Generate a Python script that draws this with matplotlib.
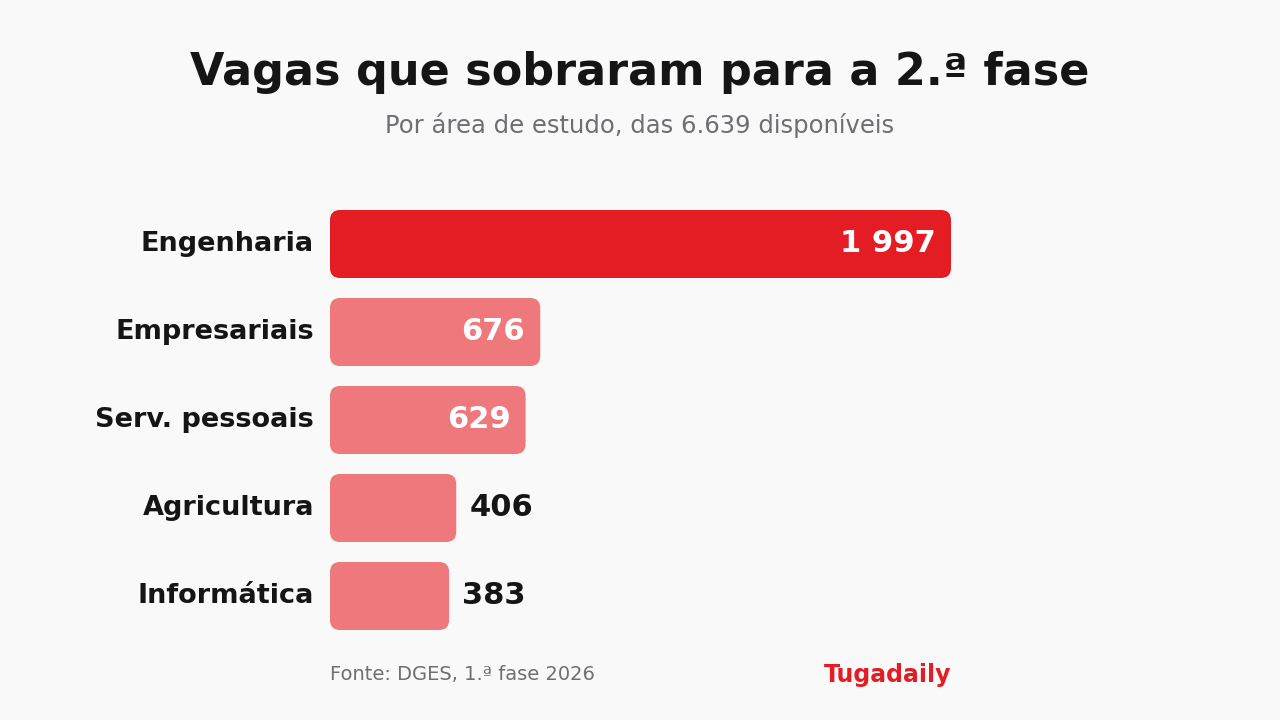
import matplotlib
matplotlib.use('Agg')
import matplotlib.pyplot as plt
from matplotlib.patches import FancyBboxPatch

plt.rcParams['font.family'] = ['DejaVu Sans']

categories = ['Engenharia', 'Empresariais', 'Serv. pessoais', 'Agricultura', 'Informática']
values = [1997, 676, 629, 406, 383]
value_labels = ['1 997', '676', '629', '406', '383']

RED = '#e41d25'
LIGHT = '#ee787b'
BG = '#f9f9f9'

fig = plt.figure(figsize=(12.8, 7.2), dpi=100, facecolor=BG)
ax = fig.add_axes([330/1280, 1 - 640/720, 621/1280, 440/720])
ax.set_facecolor(BG)
ax.set_xlim(0, 1997)
ax.set_ylim(len(values) - 0.5, -0.5)
ax.axis('off')

h = 68/88
rx = 10 * 1997/621   # ~10 px rounding in x data units
ry = 10 / 88
for i, (v, lab) in enumerate(zip(values, value_labels)):
    col = RED if i == 0 else LIGHT
    p = FancyBboxPatch((0, i - h/2), v, h,
                       boxstyle=f'round,pad=0,rounding_size={rx}',
                       mutation_aspect=ry/rx, fc=col, ec='none')
    ax.add_patch(p)
    if v > 500:
        ax.text(v - 15*1997/621, i, lab, ha='right', va='center',
                color='white', fontsize=22, fontweight='bold')
    else:
        ax.text(v + 13*1997/621, i, lab, ha='left', va='center',
                color='#151515', fontsize=22, fontweight='bold')
    ax.text(-16*1997/621, i, categories[i], ha='right', va='center',
            color='#151515', fontsize=19.5, fontweight='bold')

fig.text(0.5, 1 - 72/720, 'Vagas que sobraram para a 2.ª fase', ha='center', va='center',
         fontsize=32, fontweight='bold', color='#151515')
fig.text(0.5, 1 - 125/720, 'Por área de estudo, das 6.639 disponíveis', ha='center', va='center',
         fontsize=17.5, color='#6e6e73')
fig.text(330/1280, 1 - 675/720, 'Fonte: DGES, 1.ª fase 2026', ha='left', va='center',
         fontsize=14, color='#6e6e73')
fig.text(951/1280, 1 - 675/720, 'Tugadaily', ha='right', va='center',
         fontsize=17, fontweight='bold', color=RED)

fig.savefig('out.png', dpi=100, facecolor=BG)
